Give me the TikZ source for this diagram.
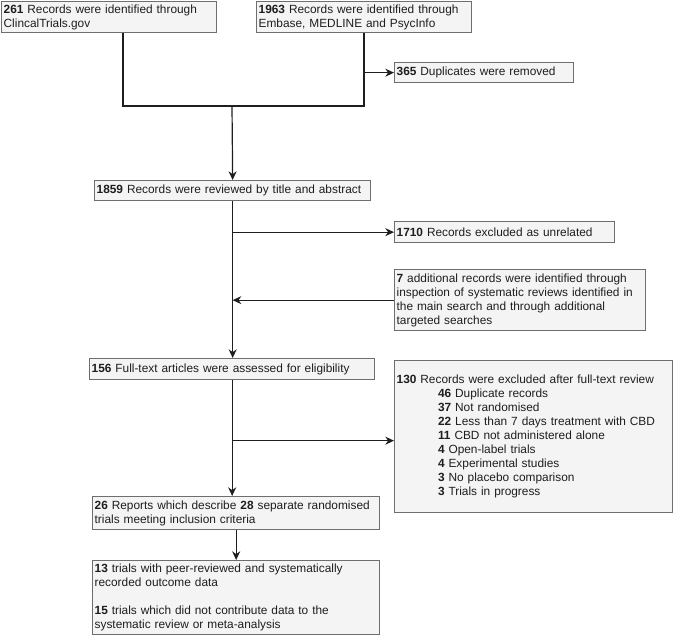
\documentclass[tikz,border=0pt]{standalone}
\usepackage{fontspec}
\setmainfont{Liberation Sans}
\usetikzlibrary{arrows.meta}

\definecolor{boxline}{HTML}{6E6E6E}
\definecolor{boxfill}{HTML}{F4F4F4}
\definecolor{ink}{HTML}{1E1E1E}
\newcommand{\excl}[2]{\hspace*{31pt}\textbf{#1} #2}

\begin{document}
\begin{tikzpicture}[x=0.75pt, y=-0.75pt, line width=0.9pt, color=ink,
	every node/.style={draw=boxline, fill=boxfill, line width=1pt, anchor=north west, align=left, inner xsep=1.5pt, inner ysep=0pt, font=\fontsize{8.9}{10.5}\selectfont, execute at begin node={\hyphenpenalty=10000\relax}},
	arr/.style={-{Stealth[length=6.5pt, width=6pt]}}]

\useasboundingbox (0,0) rectangle (676,635);

\node[text width=158.25pt, minimum height=23.25pt] (ct) at (1,1) {\textbf{261} Records were identified through\\ClincalTrials.gov};
\node[text width=158.25pt, minimum height=23.25pt] (db) at (256,1) {\textbf{1963} Records were identified through\\Embase, MEDLINE and PsycInfo};
\node[text width=131.25pt, minimum height=15pt] (dup) at (394,62) {\textbf{365} Duplicates were removed};
\node[text width=204pt, minimum height=15pt] (screen) at (94,180) {\textbf{1859} Records were reviewed by title and abstract};
\node[text width=162pt, minimum height=15.75pt] (unrel) at (394,221) {\textbf{1710} Records excluded as unrelated};
\node[text width=185.25pt, minimum height=45.75pt] (extra) at (394,269) {\textbf{7} additional records were identified through\\inspection of systematic reviews identified in\\the main search and through additional\\targeted searches};
\node[text width=210.75pt, minimum height=15.75pt] (full) at (89,358) {\textbf{156} Full-text articles were assessed for eligibility};
\node[text width=205.5pt, minimum height=114pt] (fullex) at (394,360) {\textbf{130} Records were excluded after full-text review\\
	\excl{46}{Duplicate records}\\
	\excl{37}{Not randomised}\\
	\excl{22}{Less than 7 days treatment with CBD}\\
	\excl{11}{CBD not administered alone}\\
	\excl{4}{Open-label trials}\\
	\excl{4}{Experimental studies}\\
	\excl{3}{No placebo comparison}\\
	\excl{3}{Trials in progress}};
\node[text width=212.25pt, minimum height=24.75pt] (incl) at (92,496) {\textbf{26} Reports which describe \textbf{28} separate randomised\\trials meeting inclusion criteria};
\node[text width=212.25pt, minimum height=55.5pt] (split) at (92,560) {\textbf{13} trials with peer-reviewed and systematically\\recorded outcome data\\[10.5pt]\textbf{15} trials which did not contribute data to the\\systematic review or meta-analysis};

% merge of the two sources
\coordinate (ctout) at (123,106);
\coordinate (dbout) at (364,106);
\coordinate (join) at (232,106);
\draw (ctout |- ct.south) -- (ctout) -- (dbout) -- (dbout |- db.south);
\draw[arr] (join) -- (screen.north);
\draw[arr] (dbout |- dup.west) -- (dup.west);

% main trunk
\draw[arr] (screen.south) -- (screen.south |- full.north);
\draw[arr] (screen.south |- unrel.west) -- (unrel.west);
\draw[arr] (extra.west) -- (extra.west -| screen.south);

\coordinate (exin) at ([yshift=-3pt]fullex.west);
\draw[arr] (full.south) -- (full.south |- incl.north);
\draw[arr] (exin -| full.south) -- (exin);
\draw[arr] (incl.south) -- (split.north);

\end{tikzpicture}
\end{document}
